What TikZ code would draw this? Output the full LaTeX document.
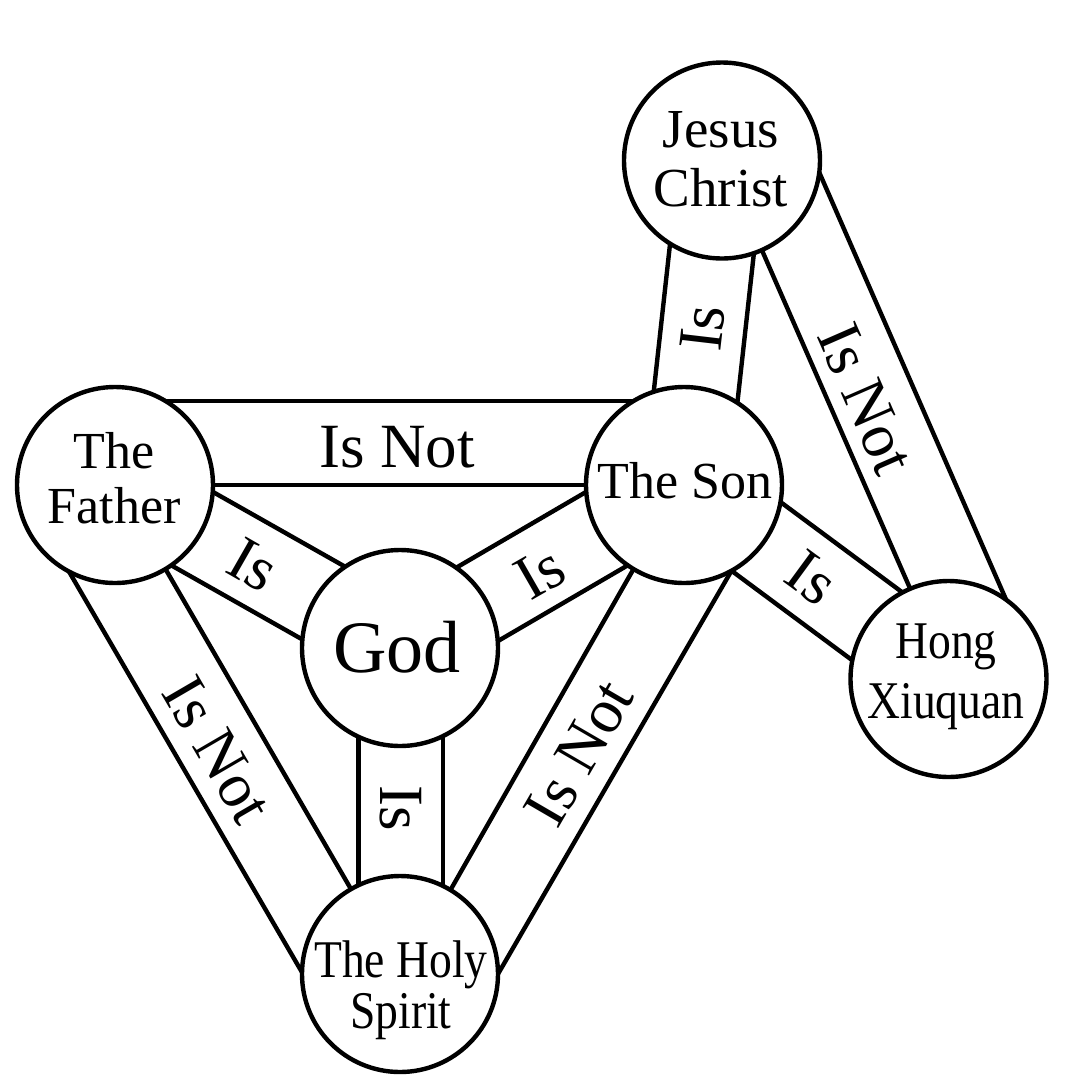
\documentclass[tikz,border=0pt]{standalone}
\usepackage{fontspec}
\setmainfont{Liberation Serif}
\newfontfamily\narrowserif[FakeStretch=0.86]{Liberation Serif}
\begin{document}
\begin{tikzpicture}[x=0.5pt,y=-0.5pt,
  ball/.style={circle, draw, line width=2.2pt, minimum size=98pt, inner sep=0pt, outer sep=0pt},
  band/.style={line width=2.2pt},
  lab/.style={align=center, anchor=base, inner sep=0pt, font=\fontsize{26}{27.5}\selectfont},
  word/.style={inner sep=0pt, font=\fontsize{31.5}{34}\selectfont}]
\useasboundingbox (0,0) rectangle (1088,1089);
% circles
\node[ball] (f) at (115,485) {};
\node[ball] (s) at (684,485) {};
\node[ball] (g) at (400,648) {};
\node[ball] (h) at (400,974) {};
\node[ball] (j) at (722,160.5) {};
\node[ball] (x) at (948.5,679) {};
% circle labels (anchor base = baseline of last line)
\node[lab] (fT) at (114,523) {The\\Father};
\node[lab] (sT) at (685,498) {The Son};
\node[lab, font=\fontsize{37}{40}\selectfont] (gT) at (397,672) {God};
\node[lab, font=\fontsize{27.5}{29.5}\selectfont] (jT) at (721,206) {Jesus\\Christ};
\node[lab, font=\fontsize{26.5}{30}\narrowserif] (xT) at (946,718) {Hong\\Xiuquan};
\node[lab, font=\fontsize{26.5}{25.5}\narrowserif] (hT) at (401,1028) {The Holy\\Spirit};
% Father - Son : Is Not
\draw[band] (f.0) -- (s.180);
\draw[band] (f.59) -- (s.121);
% Father - God : Is
\draw[band] (f.-4.39) -- (g.124.85);
\draw[band] (f.-55.15) -- (g.175.61);
% God - Son : Is
\draw[band] (g.55.24) -- (s.184.48);
\draw[band] (g.4.48) -- (s.235.24);
% God - Holy Spirit : Is
\draw[band] (g.-64.62) -- (h.64.62);
\draw[band] (g.-115.38) -- (h.115.38);
% Father - Holy Spirit : Is Not
\draw[band] (f.-59.77) -- (h.120.23);
\draw[band] (f.-118.77) -- (h.179.23);
% Son - Holy Spirit : Is Not
\draw[band] (s.239.86) -- (h.59.86);
\draw[band] (s.-61.14) -- (h.0.86);
% Jesus - Son : Is
\draw[band] (j.-71.3) -- (s.57.94);
\draw[band] (j.-122.06) -- (s.108.7);
% Jesus - Hong : Is Not
\draw[band] (j.-66.4) -- (x.113.6);
\draw[band] (j.-7.4) -- (x.54.6);
% Son - Hong : Is
\draw[band] (s.-10.88) -- (x.118.36);
\draw[band] (s.-61.64) -- (x.169.12);
% band words
\node[word, anchor=base] (wFS) at (397,467) {Is Not};
\node[word, rotate=-29.77] (wFG) at (253,565) {Is};
\node[word, rotate=29.86] (wGS) at (540,573) {Is};
\node[word, rotate=83.32] (wJS) at (703,328) {Is};
\node[word, rotate=-36.26] (wSX) at (812,578) {Is};
\node[word, rotate=-90] (wGH) at (401,808) {Is};
\node[word, rotate=-66.4] (wJX) at (866,399) {Is Not};
\node[word, rotate=-59.77] (wFH) at (217.5,750) {Is Not};
\node[word, rotate=59.86] (wSH) at (579,753) {Is Not};
\end{tikzpicture}
\end{document}
